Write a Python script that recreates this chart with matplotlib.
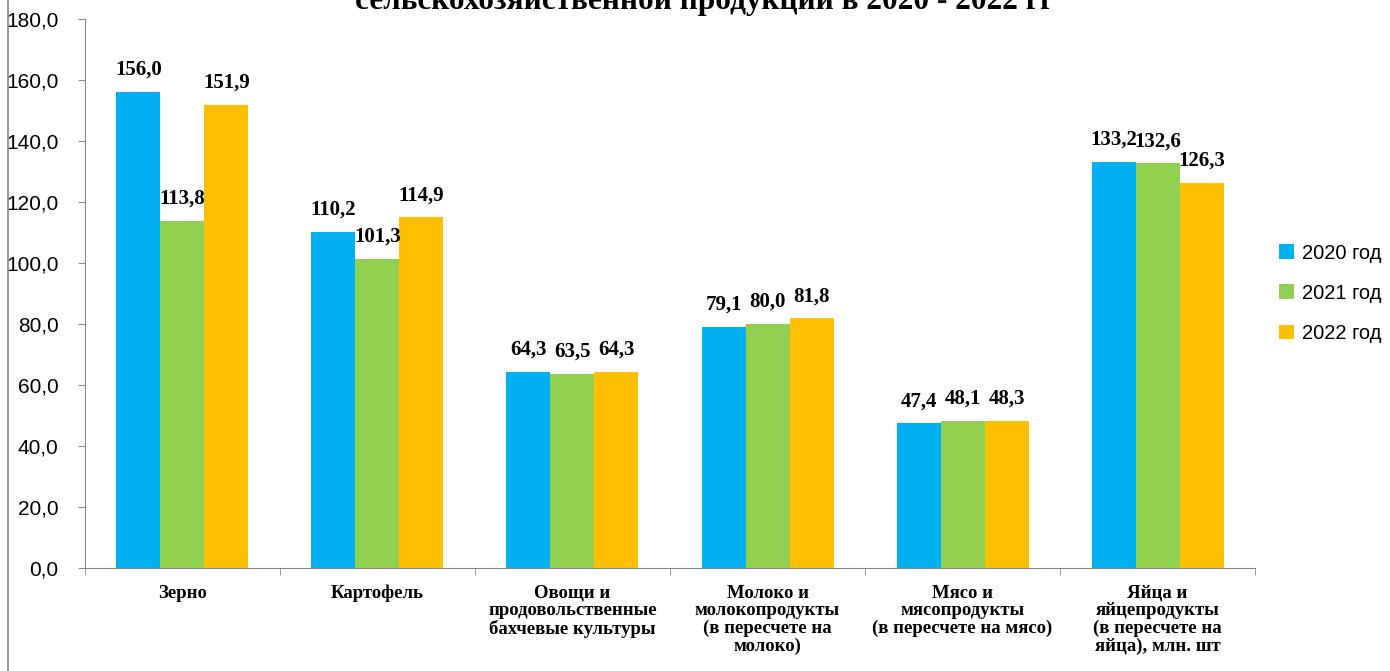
import numpy as np
import matplotlib.pyplot as plt
from matplotlib.lines import Line2D

categories = [
    "Зерно",
    "Картофель",
    "Овощи и\nпродовольственные\nбахчевые культуры",
    "Молоко и\nмолокопродукты\n(в пересчете на\nмолоко)",
    "Мясо и\nмясопродукты\n(в пересчете на мясо)",
    "Яйца и\nяйцепродукты\n(в пересчете на\nяйца), млн. шт",
]
years = ["2020 год", "2021 год", "2022 год"]
v2020 = [156.0, 110.2, 64.3, 79.1, 47.4, 133.2]
v2021 = [113.8, 101.3, 63.5, 80.0, 48.1, 132.6]
v2022 = [151.9, 114.9, 64.3, 81.8, 48.3, 126.3]
colors = ["#00B0F0", "#92D050", "#FFC000"]
title = "сельскохозяйственной продукции в 2020 - 2022 гг"


def fmt(v):
    return f"{v:.1f}".replace(".", ",")


def main():
    fig = plt.figure(figsize=(13.9, 6.71), dpi=100)
    ax = fig.add_axes([0.061, 0.1535, 0.842, 0.8185])

    x = np.arange(len(categories))
    w = 0.2256
    for i, (vals, c, lab) in enumerate(zip([v2020, v2021, v2022], colors, years)):
        pos = x + (i - 1) * w
        ax.bar(pos, vals, w, color=c, label=lab)
        for xp, v in zip(pos, vals):
            ax.text(xp, v + 4.0, fmt(v), ha="center", va="bottom",
                    fontsize=15, fontweight="bold", family="Liberation Serif")

    ax.set_xlim(-0.5, len(categories) - 0.5)
    ax.set_ylim(0, 180)
    ax.set_yticks(np.arange(0, 181, 20))
    ax.set_yticklabels([fmt(t) for t in np.arange(0, 181, 20)],
                       family="Liberation Sans", fontsize=15)
    ax.set_xticks(x)
    ax.set_xticklabels(categories, family="Liberation Serif", fontsize=13.5,
                       fontweight="bold", linespacing=1.05, va="top")
    ax.tick_params(axis="x", length=0, pad=12)
    ax.set_xticks(np.arange(-0.5, len(categories)), minor=True)
    ax.tick_params(axis="x", which="minor", length=5, color="#868686")
    ax.tick_params(axis="y", length=5, color="#868686", pad=14)

    for s in ["top", "right"]:
        ax.spines[s].set_visible(False)
    for s in ["left", "bottom"]:
        ax.spines[s].set_color("#868686")

    ax.legend(loc="center left", bbox_to_anchor=(1.005, 0.5),
              frameon=False, prop={"family": "Liberation Sans", "size": 14.5},
              handlelength=0.75, handleheight=0.75, handletextpad=0.4,
              labelspacing=1.05)

    fig.text(0.507, 1 - 9 / 671, title, ha="center", va="baseline",
             fontsize=22.5, fontweight="bold", family="Liberation Serif")

    fig.add_artist(Line2D([8 / 1390, 8 / 1390], [0, 1], color="#868686", lw=1.2,
                          transform=fig.transFigure))

    fig.savefig("out.png", dpi=100)


if __name__ == "__main__":
    main()
